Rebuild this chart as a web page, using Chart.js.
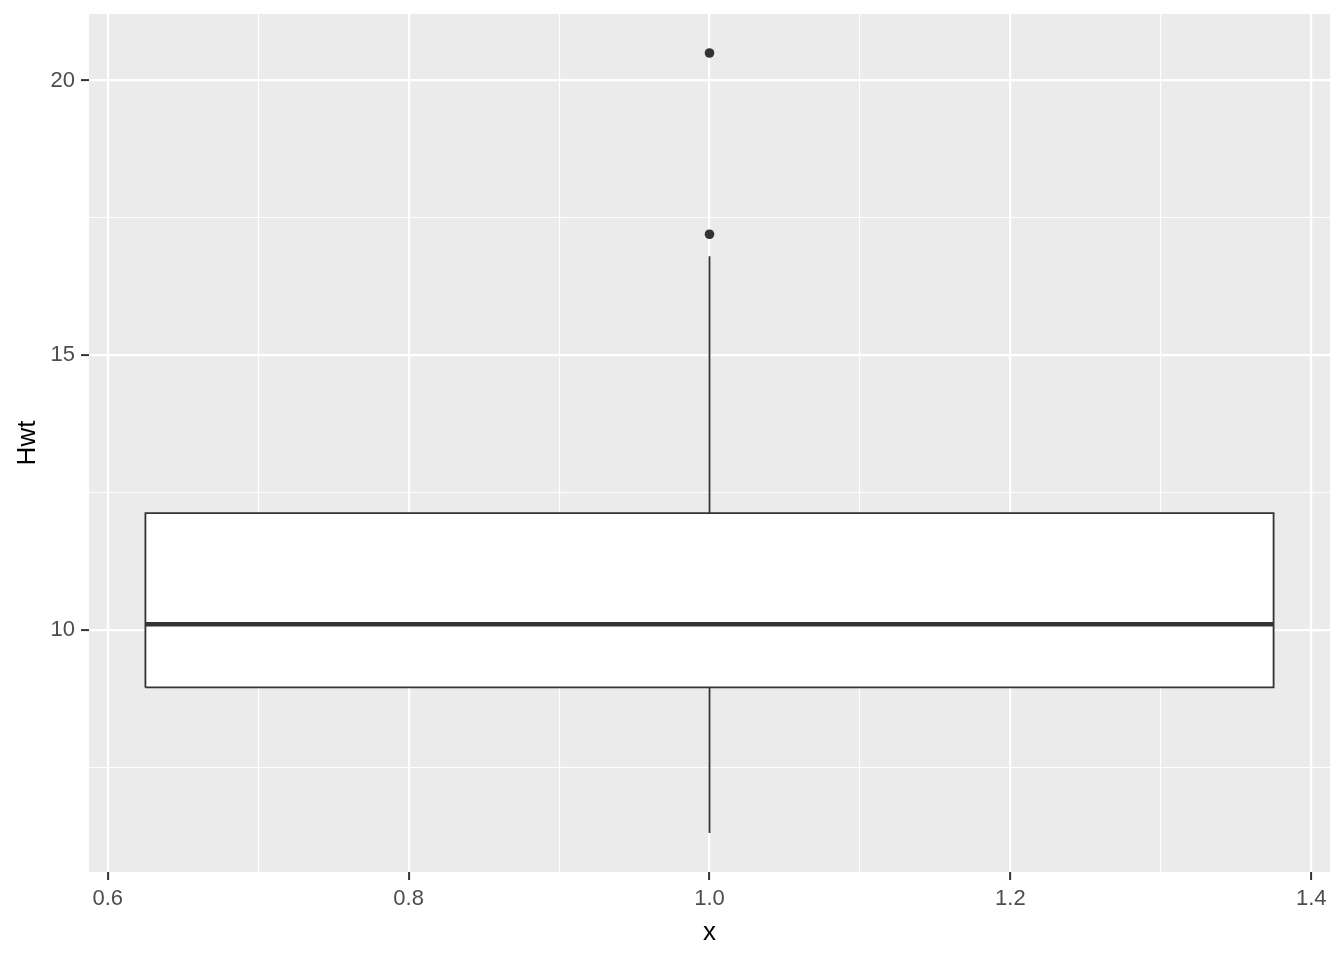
<!DOCTYPE html>
<html>
<head>
<meta charset="utf-8">
<script src="https://cdn.jsdelivr.net/npm/chart.js@4.4.0/dist/chart.umd.min.js"></script>
<style>
  body { margin: 0; background: #fff; }
  #wrap { width: 1344px; height: 960px; }
</style>
</head>
<body>
<div id="wrap"><canvas id="myChart" width="1344" height="960"></canvas></div>
<script>
// Hwt summary (box at x = 1)
const boxX = 1.0;
const boxHalf = 0.375;
const hwtStats = [6.3, 8.95, 10.1, 12.125, 16.8]; // lower whisker, Q1, median, Q3, upper whisker
const hwtOutliers = [17.2, 20.5];

const xTicks = [0.6, 0.7, 0.8, 0.9, 1.0, 1.1, 1.2, 1.3, 1.4];
const xMajor = [0.6, 0.8, 1.0, 1.2, 1.4];
const yTicks = [7.5, 10, 12.5, 15, 17.5, 20];
const yMajor = [10, 15, 20];

const lo = hwtStats[0], q1 = hwtStats[1], med = hwtStats[2], q3 = hwtStats[3], hi = hwtStats[4];
const x0 = boxX - boxHalf, x1 = boxX + boxHalf;

function isMajor(list, v) {
  return list.some(m => Math.abs(m - v) < 1e-6);
}

const panelBg = {
  id: 'panelBg',
  beforeDraw(chart) {
    const a = chart.chartArea, ctx = chart.ctx;
    ctx.save();
    ctx.fillStyle = '#EBEBEB';
    ctx.fillRect(a.left, a.top, a.right - a.left, a.bottom - a.top);
    ctx.restore();
  }
};

const dark = '#333333';
const fam = 'Liberation Sans, Arial, sans-serif';

var chart = new Chart(document.getElementById('myChart').getContext('2d'), {
  type: 'scatter',
  data: {
    datasets: [
      {
        label: 'box',
        data: [{x: x0, y: q1}, {x: x1, y: q1}, {x: x1, y: q3}, {x: x0, y: q3}, {x: x0, y: q1}],
        showLine: true,
        fill: 'shape',
        backgroundColor: '#FFFFFF',
        borderColor: dark,
        borderWidth: 1.8,
        pointRadius: 0,
        tension: 0,
        order: 5
      },
      {
        label: 'median',
        data: [{x: x0, y: med}, {x: x1, y: med}],
        showLine: true,
        borderColor: dark,
        borderWidth: 4.6,
        pointRadius: 0,
        order: 1
      },
      {
        label: 'upper',
        data: [{x: boxX, y: q3}, {x: boxX, y: hi}],
        showLine: true,
        borderColor: dark,
        borderWidth: 1.8,
        pointRadius: 0,
        order: 1
      },
      {
        label: 'lower',
        data: [{x: boxX, y: q1}, {x: boxX, y: lo}],
        showLine: true,
        borderColor: dark,
        borderWidth: 1.8,
        pointRadius: 0,
        order: 1
      },
      {
        label: 'outliers',
        data: hwtOutliers.map(v => ({x: boxX, y: v})),
        pointRadius: 4.8,
        pointBackgroundColor: dark,
        pointBorderColor: dark,
        pointBorderWidth: 0,
        order: 0
      }
    ]
  },
  options: {
    responsive: false,
    animation: false,
    layout: { padding: { top: 14, right: 14, left: 0, bottom: 0 } },
    plugins: { legend: { display: false }, tooltip: { enabled: false } },
    scales: {
      x: {
        type: 'linear',
        min: 0.5875,
        max: 1.4125,
        afterBuildTicks: axis => { axis.ticks = xTicks.map(v => ({value: v})); },
        afterFit: axis => { axis.height = 88; axis.paddingLeft = 0; axis.paddingRight = 0; },
        border: { display: false },
        grid: {
          color: '#FFFFFF',
          lineWidth: c => isMajor(xMajor, c.tick.value) ? 2.2 : 1.1,
          tickColor: c => isMajor(xMajor, c.tick.value) ? dark : 'rgba(0,0,0,0)',
          tickLength: 8,
          tickWidth: 2
        },
        ticks: {
          color: '#4D4D4D',
          font: { family: fam, size: 22 },
          padding: 6,
          maxRotation: 0,
          autoSkip: false,
          callback: v => isMajor(xMajor, v) ? v.toFixed(1) : ''
        },
        title: {
          display: true,
          text: 'x',
          color: '#000000',
          font: { family: fam, size: 26 },
          padding: { top: 12, bottom: 12 }
        }
      },
      y: {
        type: 'linear',
        min: 5.59,
        max: 21.21,
        afterBuildTicks: axis => { axis.ticks = yTicks.map(v => ({value: v})); },
        afterFit: axis => { axis.width = 89; axis.paddingTop = 0; axis.paddingBottom = 0; },
        border: { display: false },
        grid: {
          color: '#FFFFFF',
          lineWidth: c => isMajor(yMajor, c.tick.value) ? 2.2 : 1.1,
          tickColor: c => isMajor(yMajor, c.tick.value) ? dark : 'rgba(0,0,0,0)',
          tickLength: 8,
          tickWidth: 2
        },
        ticks: {
          color: '#4D4D4D',
          font: { family: fam, size: 22 },
          padding: 6,
          autoSkip: false,
          callback: v => isMajor(yMajor, v) ? String(v) : ''
        },
        title: {
          display: true,
          text: 'Hwt',
          color: '#000000',
          font: { family: fam, size: 26 },
          padding: { top: 12, bottom: 12 }
        }
      }
    }
  },
  plugins: [panelBg]
});
</script>
</body>
</html>
